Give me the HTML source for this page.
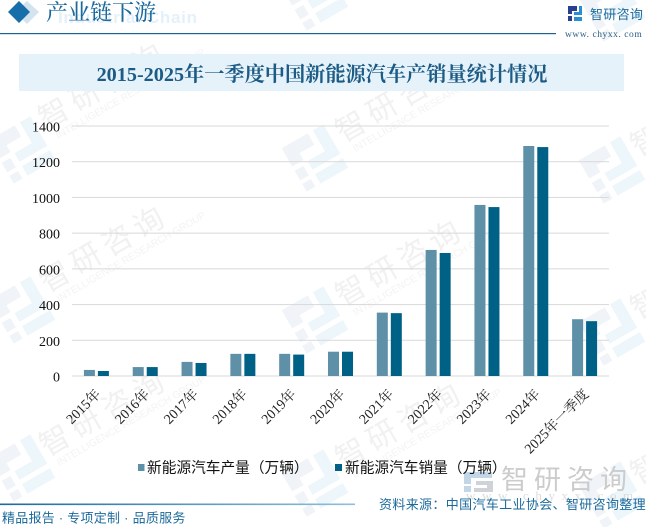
<!DOCTYPE html>
<html lang="zh">
<head>
<meta charset="utf-8">
<title>2015-2025年一季度中国新能源汽车产销量统计情况</title>
<style>
html,body{margin:0;padding:0;background:#fff;width:646px;height:527px;overflow:hidden}
body{position:relative}
svg{position:absolute;left:0;top:0;display:block;overflow:hidden}
</style>
</head>
<body>
<svg id="chart" width="646" height="527" viewBox="0 0 646 527" xmlns="http://www.w3.org/2000/svg">
  <defs>
    <g id="wm-logo">
      <path d="M-24 -25H6V-12H-11V-4H-24ZM-24 1H-14V12H-24ZM-24 16H-14V25H-24Z" fill="#f0f3f7"/>
      <path d="M12 -25H24V9H-8V-1H12ZM-8 14H24V25H-8Z" fill="#edf6fb"/>
    </g>
    <linearGradient id="foot-grad" x1="0" x2="1" y1="0" y2="0">
      <stop offset="0" stop-color="#1c6a9c"/>
      <stop offset="1" stop-color="#8fc0dc"/>
    </linearGradient>
  </defs>
  <g id="watermarks"></g>

  <g>
    <path d="M27 1L39 12L27 24L15 12Z" fill="#d3e4ef"/>
    <path d="M19 1L30 12L19 23L8 12Z" fill="#176fa9"/>
    <text x="58" y="23" font-family="Liberation Sans, sans-serif" font-size="17" letter-spacing="0.7" font-weight="700" fill="#e4f1fb">Industrial Chain</text>
    <text x="46" y="20" font-family="'Liberation Serif','Noto Serif CJK SC',serif" font-size="22" font-weight="500" fill="#1c6a9c">产业链下游</text>
    <rect x="0" y="33" width="556" height="1.2" fill="#1c6390"/>
  </g>

  <g>
    <path d="M568 6H577V11H572V14H568ZM568 16H572V21H568Z" fill="#2b3f8f"/>
    <path d="M579 6H582V15H574V12H579ZM574 17H582V21H574Z" fill="#2a8fd0"/>
    <text x="590" y="19" font-family="'Noto Sans CJK SC',sans-serif" font-size="13" letter-spacing="0.3" fill="#1c6a9c">智研咨询</text>
    <text x="565" y="37" font-family="'Liberation Serif',serif" font-size="9.5" letter-spacing="0.55" fill="#2c5f82">www. chyxx. com</text>
  </g>

  <rect x="19" y="54" width="605" height="37" fill="#e6f2fa"/>
  <text x="322" y="81" text-anchor="middle" font-family="'Liberation Serif','Noto Serif CJK SC',serif" font-size="20.2" font-weight="700" fill="#1b5b85">2015-2025年一季度中国新能源汽车产销量统计情况</text>

  <g id="grid"></g>
  <g id="ylabels"></g>
  <g id="bars"></g>
  <g id="xlabels"></g>

  <g>
    <path d="M464 472H492V478H471V484H464ZM464 486H471V492H464Z" fill="#c3d6e8"/>
    <path d="M476 481H493V492H474V488H487V485H476Z" fill="#cfd3d8"/>
    <text x="501" y="489" font-family="'Noto Sans CJK SC',sans-serif" font-size="27" letter-spacing="6" fill="#cccccc">智研咨询</text>
    <text x="466" y="500" font-family="'Liberation Serif',serif" font-size="13" letter-spacing="6.6" fill="#dcdcdc">www.chyxx.com</text>
  </g>

  <g>
    <g>
      <rect x="138" y="464" width="6.5" height="7" fill="#5e90a8"/>
      <text x="147" y="472.5" font-family="'Liberation Serif','Noto Sans CJK SC',sans-serif" font-size="14.7" fill="#111">新能源汽车产量（万辆）</text>
    </g>
    <g>
      <rect x="335" y="464" width="7" height="7" fill="#006187"/>
      <text x="345" y="472.5" font-family="'Liberation Serif','Noto Sans CJK SC',sans-serif" font-size="14.7" fill="#111">新能源汽车销量（万辆）</text>
    </g>
  </g>

  <rect x="0" y="503.5" width="355" height="1.6" fill="url(#foot-grad)"/>
  <text x="2" y="522.5" font-family="'Liberation Sans','Noto Sans CJK SC',sans-serif" font-size="13" letter-spacing="0.25" fill="#1c6a9c">精品报告 · 专项定制 · 品质服务</text>
  <text x="379" y="509" font-family="'Liberation Sans','Noto Sans CJK SC',sans-serif" font-size="13" letter-spacing="0.35" fill="#1c6a9c">资料来源：中国汽车工业协会、智研咨询整理</text>
</svg>
<script>
var categories = ['2015年','2016年','2017年','2018年','2019年','2020年','2021年','2022年','2023年','2024年','2025年一季度'];
var productionValues = [34, 50, 79, 124, 124, 136, 355, 706, 958, 1288, 318];
var salesValues = [28, 50, 73, 124, 120, 136, 352, 689, 946, 1282, 307];
var yTickLabels = [0, 200, 400, 600, 800, 1000, 1200, 1400];

var SVGNS = 'http://www.w3.org/2000/svg';
var plotLeft = 72, plotRight = 609, plotBottom = 376, plotTop = 126, yMax = 1400;
var barWidth = 11, barGap = 3;

function yScale(v) { return plotBottom - (v / yMax) * (plotBottom - plotTop); }
function xBand(i) { return plotLeft + (i + 0.5) * (plotRight - plotLeft) / categories.length; }
function mk(tag, attrs) {
  var el = document.createElementNS(SVGNS, tag);
  for (var k in attrs) el.setAttribute(k, attrs[k]);
  return el;
}

var grid = document.getElementById('grid');
var ylabels = document.getElementById('ylabels');
yTickLabels.forEach(function (t) {
  var y = yScale(t);
  var line = mk('rect', { x: plotLeft, y: y - 0.5, width: plotRight - plotLeft, height: 1, fill: '#d9d9d9' });
  
  
  grid.appendChild(line);
  var label = mk('text', { x: 60, y: y + 5.5, 'text-anchor': 'end', 'font-family': "'Liberation Serif',serif", 'font-size': 14, fill: '#111' });
  label.textContent = t;
  
  
  ylabels.appendChild(label);
});

var bars = document.getElementById('bars');
categories.forEach(function (c, i) {
  var cx = xBand(i);
  var r1 = mk('rect', { x: cx - barGap / 2 - barWidth, y: yScale(productionValues[i]), width: barWidth, height: plotBottom - yScale(productionValues[i]), fill: '#5e90a8' });
  
  
  bars.appendChild(r1);
  var r2 = mk('rect', { x: cx + barGap / 2, y: yScale(salesValues[i]), width: barWidth, height: plotBottom - yScale(salesValues[i]), fill: '#006187' });
  
  
  bars.appendChild(r2);
});

var xlabels = document.getElementById('xlabels');
categories.forEach(function (c, i) {
  var cx = xBand(i) + 5, cy = 395;
  var t = mk('text', { x: cx, y: cy, 'text-anchor': 'end', transform: 'rotate(-45 ' + cx + ' ' + cy + ')', 'font-family': "'Liberation Serif','Noto Serif CJK SC',serif", 'font-size': 14, fill: '#222' });
  t.textContent = c;
  
  
  xlabels.appendChild(t);
});

/* decorative background watermark placement */
var wmTextAnchors = [[46,130],[343,143],[47,293],[343,307],[47,457],[343,470],[638,157],[638,320],[638,485]];
var wmLogoAnchors = [[315,-3],[612,8],[22,150],[315,158],[612,170],[22,310],[315,320],[612,332],[22,468],[315,483],[612,495]];
var wm = document.getElementById('watermarks');
wmTextAnchors.forEach(function (p) {
  var g = mk('g', { transform: 'translate(' + p[0] + ' ' + p[1] + ') rotate(-30)' });
  
  
  var a = mk('text', { x: 0, y: 0, 'font-family': "'Noto Sans CJK SC',sans-serif", 'font-size': 30, 'letter-spacing': 6, fill: '#f1f1f1' });
  a.textContent = '智研咨询';
  g.appendChild(a);
  var b = mk('text', { x: 6, y: 14, 'font-family': "'Liberation Sans',sans-serif", 'font-size': 10, fill: '#f3f3f3' });
  b.textContent = 'INTELLIGENCE RESEARCH GROUP';
  g.appendChild(b);
  wm.appendChild(g);
});
wmLogoAnchors.forEach(function (p) {
  var u = mk('use', { href: '#wm-logo', transform: 'translate(' + p[0] + ' ' + p[1] + ') rotate(-30)' });
  
  
  wm.appendChild(u);
});
</script>
</body>
</html>
